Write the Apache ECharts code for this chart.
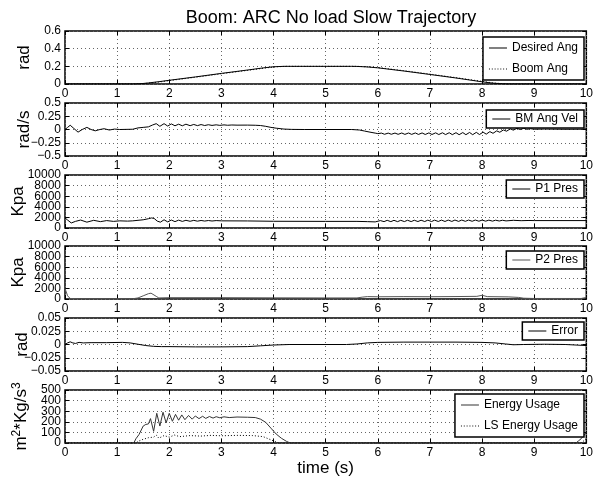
<!DOCTYPE html>
<html>
<head>
<meta charset="utf-8">
<script src="https://cdn.jsdelivr.net/npm/echarts@6/dist/echarts.min.js"></script>
<style>
  html, body { margin: 0; padding: 0; background: #fff; }
  #chart { width: 596px; height: 479px; }
</style>
</head>
<body>
<div id="chart"></div>
<script>
// tick labels
const timeTicks = [0, 1, 2, 3, 4, 5, 6, 7, 8, 9, 10];
const angTicks = [0, 0.2, 0.4, 0.6];
const velTicks = [-0.5, -0.25, 0, 0.25, 0.5];
const presTicks = [0, 2000, 4000, 6000, 8000, 10000];
const errTicks = [-0.05, -0.025, 0, 0.025, 0.05];
const energyTicks = [0, 100, 200, 300, 400, 500];

// panel 1 - boom angle (rad)
const desiredAng = [[0,0],[1.3,0],[1.4,0.002],[1.5,0.006],[1.6,0.012],[1.8,0.026],[2,0.042],[2.5,0.08],[3,0.12],[3.5,0.158],[3.8,0.182],[4,0.195],[4.2,0.2],[5.5,0.2],[5.6,0.199],[5.8,0.193],[6,0.183],[6.5,0.147],[7,0.108],[7.5,0.068],[7.8,0.042],[8,0.025],[8.2,0.01],[8.4,0.002],[8.5,0],[10,0]];
const boomAng = [[0,0],[1.35,0],[1.45,0.002],[1.55,0.006],[1.65,0.012],[1.85,0.026],[2.05,0.042],[2.55,0.08],[3.05,0.12],[3.55,0.158],[3.85,0.182],[4.05,0.195],[4.25,0.2],[5.55,0.2],[5.65,0.199],[5.85,0.193],[6.05,0.183],[6.55,0.147],[7.05,0.108],[7.55,0.068],[7.85,0.042],[8.05,0.025],[8.25,0.01],[8.45,0.002],[8.55,0],[10,0]];

// panel 2 - boom angular velocity (rad/s)
const boomVel = [[0,0],[0.05,0.04],[0.1,0.08],[0.17,0.02],[0.25,-0.05],[0.33,0],[0.42,0.04],[0.5,0],[0.58,-0.025],[0.67,0],[0.75,0.015],[0.85,-0.01],[0.95,0.008],[1.05,0],[1.3,0.005],[1.4,0.03],[1.5,0.04],[1.6,0.05],[1.68,0.085],[1.75,0.11],[1.82,0.06],[1.9,0.11],[1.97,0.065],[2.04,0.105],[2.11,0.07],[2.18,0.1],[2.25,0.07],[2.32,0.1],[2.4,0.072],[2.47,0.095],[2.54,0.073],[2.61,0.093],[2.68,0.075],[2.75,0.09],[2.82,0.077],[2.9,0.088],[2.97,0.078],[3.05,0.087],[3.12,0.08],[3.2,0.085],[3.3,0.082],[3.5,0.083],[3.65,0.08],[3.75,0.075],[3.85,0.06],[3.95,0.04],[4.05,0.025],[4.2,0.008],[4.35,0.002],[4.6,0],[5.5,0],[5.65,-0.01],[5.75,-0.03],[5.85,-0.05],[5.95,-0.068],[6,-0.078],[6.07,-0.068],[6.13,-0.09],[6.2,-0.068],[6.26,-0.09],[6.33,-0.067],[6.39,-0.091],[6.46,-0.066],[6.52,-0.092],[6.59,-0.066],[6.65,-0.092],[6.72,-0.065],[6.78,-0.093],[6.85,-0.065],[6.91,-0.094],[6.98,-0.064],[7.04,-0.094],[7.11,-0.063],[7.17,-0.095],[7.24,-0.062],[7.3,-0.096],[7.37,-0.061],[7.43,-0.097],[7.5,-0.06],[7.56,-0.098],[7.63,-0.058],[7.69,-0.098],[7.76,-0.056],[7.82,-0.098],[7.89,-0.054],[7.95,-0.095],[8.02,-0.05],[8.08,-0.088],[8.15,-0.04],[8.21,-0.072],[8.28,-0.026],[8.34,-0.052],[8.41,-0.008],[8.47,-0.032],[8.54,0.012],[8.6,-0.012],[8.67,0.022],[8.73,0],[8.8,0.022],[8.86,0.004],[8.93,0.015],[9,0.005],[9.2,0.008],[9.6,0.004],[9.9,0.005],[10,0.012]];

// panel 3 - P1 pressure (Kpa)
const p1Pres = [[0,1900],[0.05,1500],[0.12,950],[0.2,1250],[0.3,1500],[0.42,1100],[0.55,1450],[0.68,1200],[0.8,1400],[0.93,1250],[1.05,1350],[1.2,1300],[1.3,1350],[1.4,1450],[1.5,1550],[1.6,1750],[1.66,1900],[1.71,1800],[1.77,1300],[1.83,1100],[1.9,1550],[1.97,1150],[2.04,1500],[2.11,1200],[2.18,1480],[2.25,1250],[2.32,1450],[2.4,1270],[2.47,1440],[2.54,1290],[2.61,1420],[2.68,1310],[2.75,1410],[2.82,1320],[2.9,1400],[3,1350],[3.5,1330],[4,1270],[5,1250],[5.6,1250],[5.8,1200],[5.95,1150],[6.05,1400],[6.12,1200],[6.18,1450],[6.25,1200],[6.31,1450],[6.38,1200],[6.44,1450],[6.51,1210],[6.57,1460],[6.64,1210],[6.7,1460],[6.77,1220],[6.83,1470],[6.9,1220],[6.96,1480],[7.03,1220],[7.09,1480],[7.16,1230],[7.22,1490],[7.29,1230],[7.35,1500],[7.42,1240],[7.48,1500],[7.55,1250],[7.61,1500],[7.68,1260],[7.74,1500],[7.81,1270],[7.87,1500],[7.94,1280],[8,1490],[8.07,1290],[8.13,1480],[8.2,1300],[8.26,1470],[8.33,1320],[8.39,1460],[8.46,1340],[8.6,1450],[8.75,1380],[8.9,1420],[9,1400],[10,1400]];

// panel 4 - P2 pressure (Kpa)
const p2Pres = [[0,2000],[0.05,600],[0.1,100],[0.3,50],[1.3,50],[1.4,200],[1.5,600],[1.6,1000],[1.65,1100],[1.75,500],[1.8,200],[2,250],[3,250],[4,220],[5,200],[5.6,200],[5.7,350],[5.8,450],[6,420],[6.5,450],[7,430],[7.5,460],[7.9,500],[8,700],[8.1,450],[8.5,400],[8.7,300],[8.8,150],[9,100],[9.9,100],[10,300]];

// panel 5 - tracking error (rad)
const angError = [[0,0],[0.05,0.003],[0.1,0.005],[0.15,0.003],[0.2,0.002],[0.27,0.004],[0.35,0.003],[0.5,0.0035],[0.8,0.0035],[1.1,0.004],[1.25,0.003],[1.4,0.0005],[1.55,-0.002],[1.7,-0.0035],[1.85,-0.004],[2,-0.004],[2.5,-0.0045],[3,-0.0045],[3.5,-0.004],[3.75,-0.0025],[4,-0.001],[4.3,0],[5.4,0],[5.6,0.001],[5.8,0.003],[6,0.004],[6.5,0.0045],[7,0.0045],[7.5,0.0045],[8,0.004],[8.25,0.003],[8.45,0.001],[8.6,-0.0005],[8.8,0],[9.2,0.0005],[9.6,0],[10,-0.002]];

// panel 6 - energy usage (m^2*Kg/s^3)
const energyUse = [[0,0],[1.32,0],[1.36,40],[1.42,80],[1.5,160],[1.55,175],[1.6,180],[1.64,230],[1.7,110],[1.76,280],[1.82,160],[1.88,290],[1.94,190],[2,280],[2.06,205],[2.12,270],[2.18,215],[2.24,265],[2.3,220],[2.37,260],[2.44,225],[2.5,255],[2.57,230],[2.64,252],[2.7,232],[2.77,250],[2.84,235],[2.9,248],[2.97,238],[3.05,247],[3.15,240],[3.3,245],[3.5,243],[3.65,240],[3.75,225],[3.85,195],[3.95,140],[4.05,85],[4.15,45],[4.25,15],[4.32,0],[9.8,0],[9.85,20],[9.9,40],[10,100]];
const lsEnergyUse = [[0,0],[1.36,0],[1.4,15],[1.5,35],[1.6,50],[1.7,55],[1.75,75],[1.8,45],[1.9,70],[2,55],[2.1,75],[2.2,60],[2.4,70],[2.6,65],[2.8,72],[3,68],[3.3,72],[3.6,70],[3.8,60],[3.9,40],[4,20],[4.1,0],[9.9,0],[10,40]];

const FONT = '"Liberation Sans", Arial, Helvetica, sans-serif';
// legend line samples (filled paths, stretched to itemWidth x itemHeight)
const SOLID_ICON = 'path://M0,0H18V1H0Z';
const DOT_ICON = 'path://M0,0h1v1h-1z M3,0h1v1h-1z M6,0h1v1h-1z M9,0h1v1h-1z M12,0h1v1h-1z M15,0h1v1h-1z M18,0h1v1h-1z';

const panels = [
  { yName: 'rad', gap: 32, ticks: angTicks, legendTop: 37,
    series: [
      { name: 'Desired Ang', data: desiredAng, color: '#000', type: 'solid' },
      { name: 'Boom Ang', data: boomAng, color: '#000', type: [1, 2] }
    ] },
  { yName: 'rad/s', gap: 32, ticks: velTicks, legendTop: 110,
    series: [{ name: 'BM Ang Vel', data: boomVel, color: '#000', type: 'solid' }] },
  { yName: 'Kpa', gap: 38, ticks: presTicks, legendTop: 180,
    series: [{ name: 'P1 Pres', data: p1Pres, color: '#000', type: 'solid' }] },
  { yName: 'Kpa', gap: 38, ticks: presTicks, legendTop: 251,
    series: [{ name: 'P2 Pres', data: p2Pres, color: '#555', type: 'solid' }] },
  { yName: 'rad', gap: 34, ticks: errTicks, legendTop: 322,
    series: [{ name: 'Error', data: angError, color: '#000', type: 'solid' }] },
  { yName: '{a|m}{s|2}{a|*Kg/s}{s|3}', gap: 34, ticks: energyTicks, legendTop: 394,
    series: [
      { name: 'Energy Usage', data: energyUse, color: '#333', type: 'solid' },
      { name: 'LS Energy Usage', data: lsEnergyUse, color: '#000', type: [1, 2] }
    ] }
];

const gridTops = [31, 103, 175, 246, 318, 390];
const tickText = v => String(+(+v).toFixed(4)).replace('-', '\u2212');

const grids = [], xAxes = [], yAxes = [], legends = [], series = [];
panels.forEach((p, i) => {
  const t = p.ticks;
  const yMin = t[0], yMax = t[t.length - 1], yStep = t[1] - t[0];
  grids.push({ left: 65, width: 523, top: gridTops[i], height: 53, show: true,
    borderColor: '#000', borderWidth: 1.5, backgroundColor: '#fff' });
  const xBase = {
    gridIndex: i, type: 'value', min: timeTicks[0], max: timeTicks[timeTicks.length - 1], interval: 1,
    axisLine: { show: false, onZero: false },
    axisTick: { show: true, inside: true, length: 4, lineStyle: { color: '#000' } }
  };
  xAxes.push(Object.assign({}, xBase, {
    position: 'bottom',
    axisLabel: { show: true, margin: 4, color: '#000', fontSize: 12, fontFamily: FONT,
      showMinLabel: true, showMaxLabel: true },
    splitLine: { show: true, lineStyle: { color: '#666', width: 1, type: [1, 3] } },
    name: i === panels.length - 1 ? 'time (s)' : '',
    nameLocation: 'middle', nameGap: 16,
    nameTextStyle: { color: '#000', fontSize: 17, fontFamily: FONT }
  }));
  xAxes.push(Object.assign({}, xBase, {
    position: 'top', axisLabel: { show: false }, splitLine: { show: false }
  }));
  const yBase = {
    gridIndex: i, type: 'value', min: yMin, max: yMax, interval: yStep,
    axisLine: { show: false, onZero: false },
    axisTick: { show: true, inside: true, length: 4, lineStyle: { color: '#000' } }
  };
  // main left axis: ticks, grid lines and the rotated name
  yAxes.push(Object.assign({}, yBase, {
    position: 'left',
    axisLabel: { show: false },
    splitLine: { show: true, lineStyle: { color: '#666', width: 1, type: [1, 3] } },
    name: p.yName, nameLocation: 'middle', nameRotate: 90, nameGap: p.gap,
    nameTextStyle: { color: '#000', fontSize: 17, fontFamily: FONT,
      rich: { a: { fontSize: 17, fontFamily: FONT, color: '#000' },
              s: { fontSize: 12, fontFamily: FONT, color: '#000', verticalAlign: 'top', padding: [0, 0, 8, 0] } } }
  }));
  yAxes.push(Object.assign({}, yBase, {
    position: 'right', axisLabel: { show: false }, splitLine: { show: false }
  }));
  // tick labels split over two label-only axes so tight ticks are never dropped
  [0, 1].forEach(parity => {
    yAxes.push({
      gridIndex: i, type: 'value', min: yMin, max: yMax, position: 'left', offset: 0,
      axisLine: { show: false, onZero: false }, axisTick: { show: false }, splitLine: { show: false },
      axisLabel: { show: true, margin: 4, color: '#000', fontSize: 12, fontFamily: FONT,
        formatter: tickText, showMinLabel: true, showMaxLabel: true,
        customValues: t.filter((v, k) => k % 2 === parity) }
    });
  });
  const twoRows = p.series.length > 1;
  legends.push({
    data: p.series.map(s => ({ name: s.name, icon: Array.isArray(s.type) ? DOT_ICON : SOLID_ICON })),
    orient: 'vertical', right: 12, top: p.legendTop,
    selectedMode: false, backgroundColor: '#fff', borderColor: '#000', borderWidth: 1.5,
    padding: twoRows ? [4, 6, 4, 6] : [2, 6, 2, 6], itemGap: twoRows ? 7 : 3,
    itemWidth: 18, itemHeight: 1, symbolKeepAspect: false,
    textStyle: { color: '#000', fontSize: 12, fontFamily: FONT, lineHeight: 14 }
  });
  p.series.forEach(s => {
    series.push({
      type: 'line', name: s.name, data: s.data, xAxisIndex: 2 * i, yAxisIndex: 4 * i,
      symbol: 'none', showSymbol: false, animation: false, clip: true,
      lineStyle: { color: s.color, width: 1, type: s.type },
      itemStyle: { color: s.color }
    });
  });
});

const chart = echarts.init(document.getElementById('chart'), null, { renderer: 'canvas' });
chart.setOption({
  backgroundColor: '#fff',
  animation: false,
  title: { text: 'Boom: ARC No load Slow Trajectory', left: 326, top: 4, textAlign: 'center',
    textStyle: { color: '#000', fontSize: 18, fontWeight: 'normal', fontFamily: FONT } },
  grid: grids,
  xAxis: xAxes,
  yAxis: yAxes,
  legend: legends,
  series: series
});
</script>
</body>
</html>
